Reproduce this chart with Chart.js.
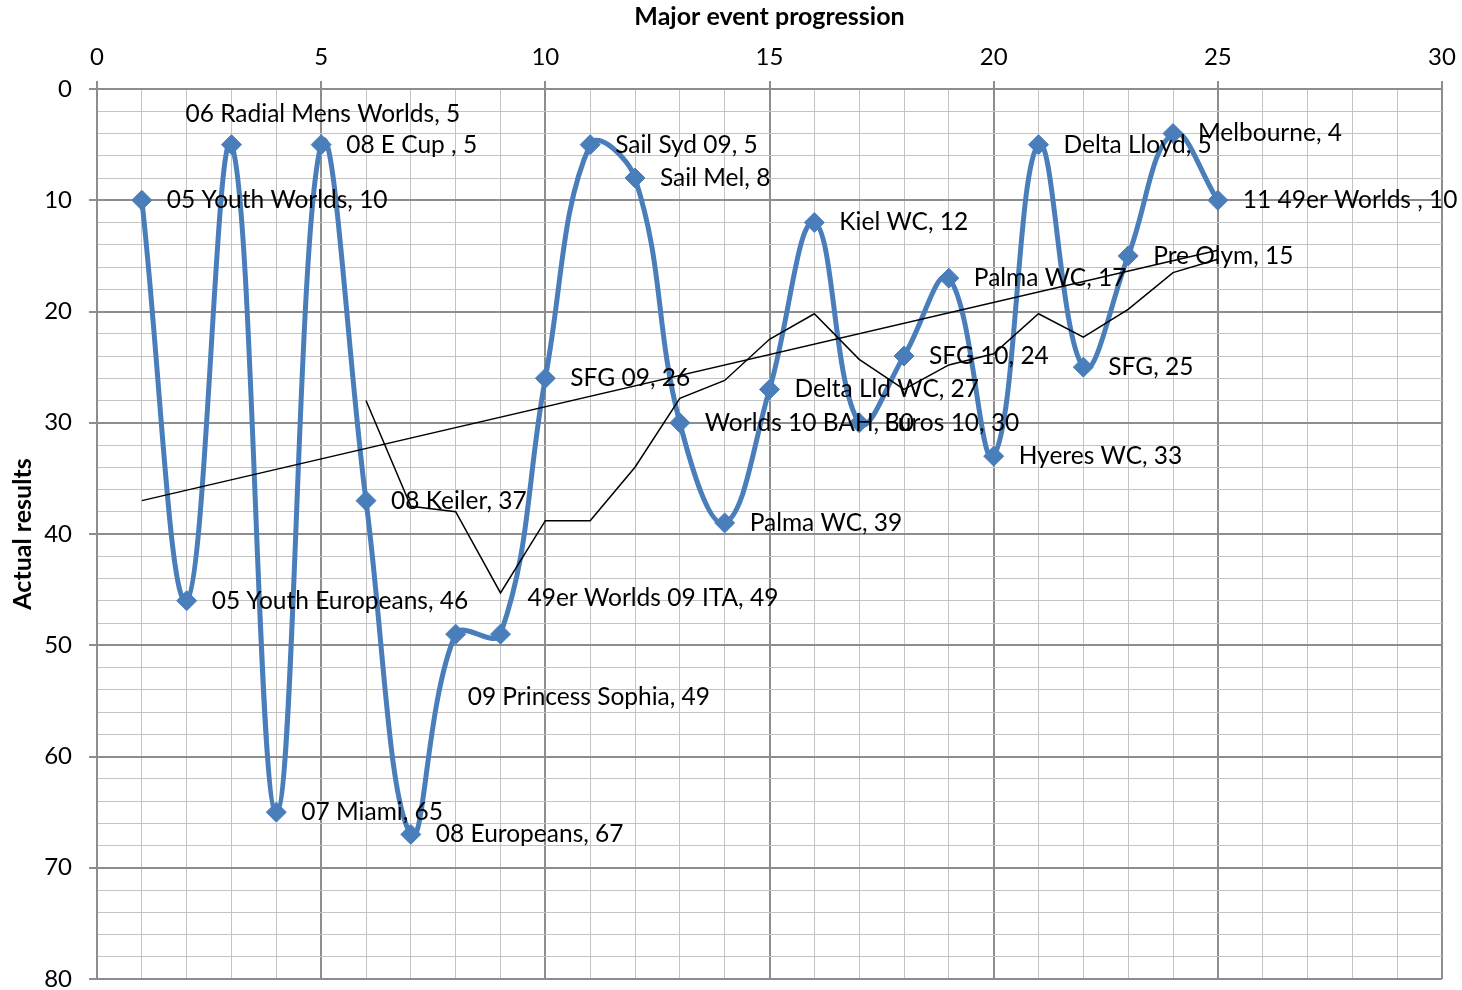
<!DOCTYPE html>
<html>
<head>
<meta charset="utf-8">
<script src="https://cdn.jsdelivr.net/npm/chart.js@4.4.0/dist/chart.umd.min.js"></script>
<style>
  html, body { margin: 0; padding: 0; background: #ffffff; }
  #wrap { width: 1462px; height: 990px; }
</style>
</head>
<body>
<div id="wrap"><canvas id="chart" width="1462" height="990"></canvas></div>
<script>
// ---- data ----
const eventIndex = [1, 2, 3, 4, 5, 6, 7, 8, 9, 10, 11, 12, 13, 14, 15, 16, 17, 18, 19, 20, 21, 22, 23, 24, 25];
const eventNames = [
  "05 Youth Worlds", "05 Youth Europeans", "06 Radial Mens Worlds", "07 Miami", "08 E Cup ",
  "08 Keiler", "08 Europeans", "09 Princess Sophia", "49er Worlds 09 ITA", "SFG 09",
  "Sail Syd 09", "Sail Mel", "Worlds 10 BAH", "Palma WC", "Delta Lld WC",
  "Kiel WC", "Euros 10", "SFG 10", "Palma WC", "Hyeres WC",
  "Delta Lloyd", "SFG", "Pre Olym", "Melbourne", "11 49er Worlds "
];
const results = [10, 46, 5, 65, 5, 37, 67, 49, 49, 26, 5, 8, 30, 39, 27, 12, 30, 24, 17, 33, 5, 25, 15, 4, 10];
// moving-average trendline (black polyline)
const movingAvgIndex = [6, 7, 8, 9, 10, 11, 12, 13, 14, 15, 16, 17, 18, 19, 20, 21, 22, 23, 24, 25];
const movingAvgValues = [28, 37.5, 38, 45.3, 38.8, 38.8, 34, 27.8, 26.2, 22.5, 20.2, 24.3, 27, 24.8, 23.8, 20.2, 22.3, 19.8, 16.5, 15.3];
// straight trendline end points
const trendIndex = [1, 25];
const trendValues = [37.0, 14.5];
// axes
const xAxisMin = 0, xAxisMax = 30, xMajorStep = 5, xMinorStep = 1;
const yAxisMin = 0, yAxisMax = 80, yMajorStep = 10, yMinorStep = 2;
const xAxisTitle = "Major event progression";
const yAxisTitle = "Actual results";

// ---- styling (kept apart from data) ----
const FONT = "Lato, 'Open Sans', sans-serif";
const BLUE = "#4A7EBB";
const MAJOR_GRID = "#8d8d8d";
const MINOR_GRID = "#c4c4c4";
// per-label placement: default is right of the marker
const LABEL_DX = 25, LABEL_DY = 0;
const labelOverrides = { 2: { dx: -46, dy: -31 }, 7: { dx: 12, dy: 63 }, 8: { dx: 27, dy: -36 } };

const toPoints = (xs, ys) => xs.map((x, i) => ({ x: x, y: ys[i] }));

const dataLabelPlugin = {
  id: 'dataLabelPlugin',
  afterDatasetsDraw(chart) {
    const meta = chart.getDatasetMeta(2);
    const ctx = chart.ctx;
    ctx.save();
    ctx.font = "24.5px " + FONT;
    ctx.fillStyle = "#000";
    ctx.textAlign = "left";
    ctx.textBaseline = "middle";
    meta.data.forEach((pt, i) => {
      const o = labelOverrides[i] || { dx: LABEL_DX, dy: LABEL_DY };
      const text = eventNames[i] + ", " + results[i];
      ctx.fillText(text, pt.x + o.dx, pt.y + o.dy);
    });
    ctx.restore();
  }
};

const isMajor = (v, step) => Math.abs(v / step - Math.round(v / step)) < 1e-6;

new Chart(document.getElementById('chart'), {
  type: 'scatter',
  data: {
    datasets: [
      {
        label: 'Moving average',
        data: toPoints(movingAvgIndex, movingAvgValues),
        showLine: true, borderColor: '#000', borderWidth: 1.5,
        pointRadius: 0, tension: 0
      },
      {
        label: 'Linear trend',
        data: toPoints(trendIndex, trendValues),
        showLine: true, borderColor: '#000', borderWidth: 1.5,
        pointRadius: 0, tension: 0
      },
      {
        label: 'Actual results',
        data: toPoints(eventIndex, results),
        showLine: true, borderColor: BLUE, borderWidth: 5,
        tension: 0.4,
        pointStyle: 'rectRot', pointRadius: 10,
        pointBackgroundColor: BLUE, pointBorderColor: BLUE, pointBorderWidth: 1
      }
    ]
  },
  options: {
    responsive: false,
    animation: false,
    devicePixelRatio: 1,
    layout: { padding: { left: 0, right: 20, top: 0, bottom: 10 } },
    plugins: { legend: { display: false }, tooltip: { enabled: false } },
    scales: {
      x: {
        type: 'linear', position: 'top', min: xAxisMin, max: xAxisMax,
        afterFit(s) { s.height = 89; s.paddingLeft = 0; s.paddingRight = 0; },
        ticks: {
          stepSize: xMinorStep, autoSkip: false, maxRotation: 0, padding: 9,
          color: '#000', font: { family: FONT, size: 24 },
          callback: v => isMajor(v, xMajorStep) ? String(v) : ''
        },
        grid: {
          color: c => isMajor(c.tick.value, xMajorStep) ? MAJOR_GRID : MINOR_GRID,
          lineWidth: c => isMajor(c.tick.value, xMajorStep) ? 2 : 1,
          tickColor: c => isMajor(c.tick.value, xMajorStep) ? MAJOR_GRID : 'rgba(0,0,0,0)',
          tickLength: 8
        },
        border: { color: MAJOR_GRID, width: 2 },
        title: {
          display: true, text: xAxisTitle, color: '#000',
          font: { family: FONT, size: 25, weight: 'bold' },
          padding: { top: 2, bottom: 0 }
        }
      },
      y: {
        type: 'linear', reverse: true, min: yAxisMin, max: yAxisMax,
        afterFit(s) { s.width = 97; s.paddingTop = 0; s.paddingBottom = 0; },
        ticks: {
          stepSize: yMinorStep, autoSkip: false, padding: 17,
          color: '#000', font: { family: FONT, size: 24 },
          callback: v => isMajor(v, yMajorStep) ? String(v) : ''
        },
        grid: {
          color: c => isMajor(c.tick.value, yMajorStep) ? MAJOR_GRID : MINOR_GRID,
          lineWidth: c => isMajor(c.tick.value, yMajorStep) ? 2 : 1,
          tickColor: c => isMajor(c.tick.value, yMajorStep) ? MAJOR_GRID : 'rgba(0,0,0,0)',
          tickLength: 8
        },
        border: { color: MAJOR_GRID, width: 2 },
        title: {
          display: true, text: yAxisTitle, color: '#000',
          font: { family: FONT, size: 25, weight: 'bold' },
          padding: { top: 8, bottom: 0 }
        }
      }
    }
  },
  plugins: [dataLabelPlugin]
});
</script>
</body>
</html>
